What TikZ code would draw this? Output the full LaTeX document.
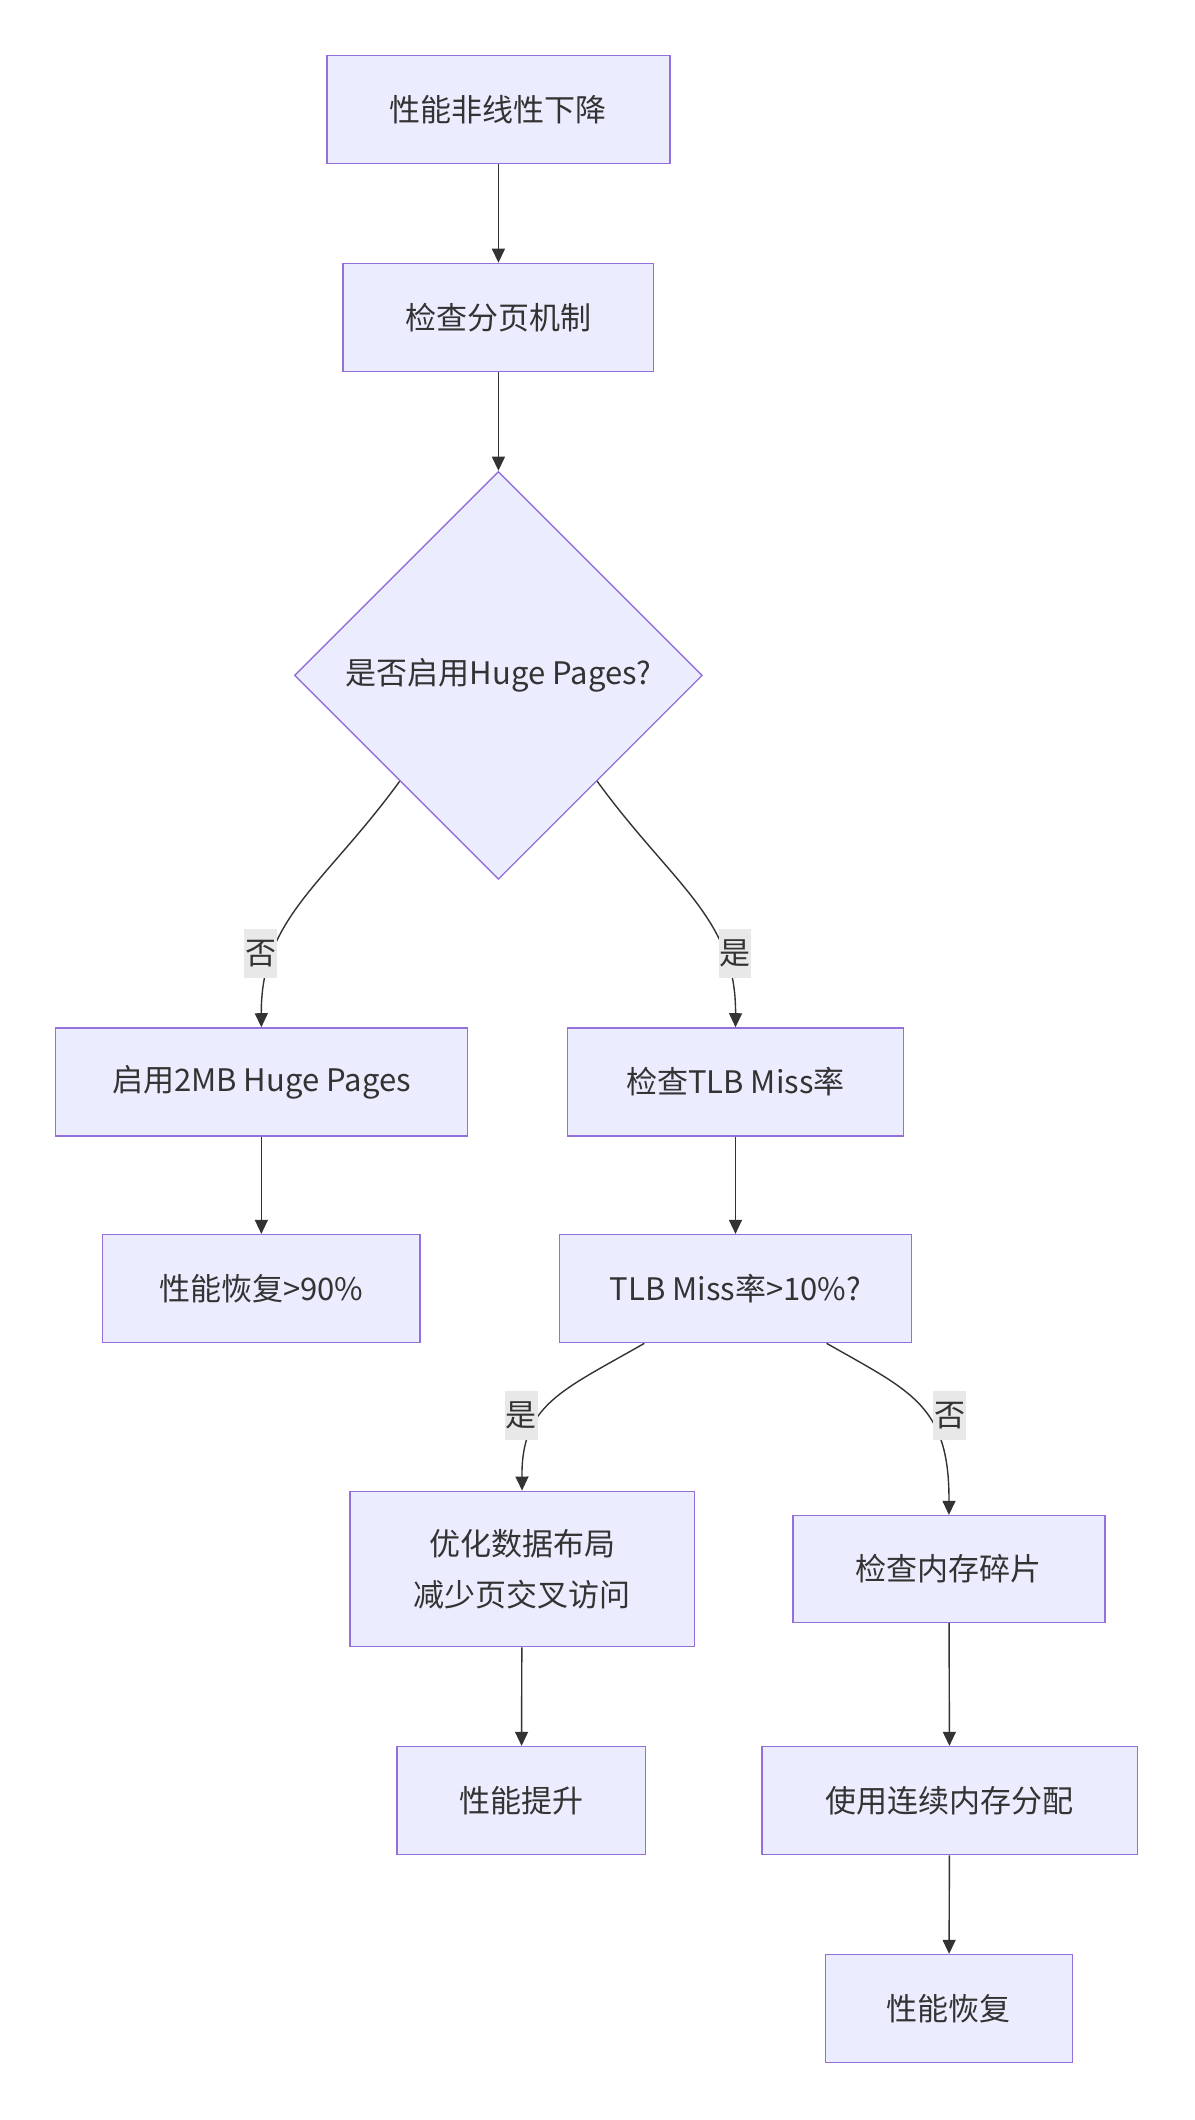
\documentclass[tikz,border=0pt]{standalone}
\usepackage{fontspec}
\setmainfont{Noto Sans CJK SC}
\usetikzlibrary{shapes.geometric,arrows.meta,calc}
\definecolor{boxfill}{HTML}{ECECFF}
\definecolor{boxline}{HTML}{9370DB}
\definecolor{ink}{HTML}{333333}
\definecolor{lblfill}{HTML}{E8E8E8}

%One pixel of the layout
\def\unitpx{0.675pt}

\begin{document}
\begin{tikzpicture}[x=\unitpx,y=-\unitpx,
     font=\fontsize{15.5pt}{25.5pt}\selectfont,
     box/.style={draw=boxline,fill=boxfill,line width=0.7pt,minimum height=80*\unitpx,inner sep=0pt,text=ink,align=center},
     decision/.style={diamond,draw=boxline,fill=boxfill,line width=0.7pt,minimum width=302*\unitpx,minimum height=302*\unitpx,inner sep=0pt,aspect=1,text=ink},
     lbl/.style={fill=lblfill,text=ink,inner sep=0pt,minimum width=24*\unitpx,minimum height=36*\unitpx},
     flow/.style={draw=ink,line width=0.7pt,-{Triangle[length=7pt,width=6.5pt]}}
     ]
\useasboundingbox (0,0) rectangle (884,1569.5);

%Main column
\node[box,minimum width=254*\unitpx] (slow) at (369,81) {性能非线性下降};
\node[box,minimum width=230*\unitpx] (paging) at (369,235) {检查分页机制};
\node[decision] (huge) at (369,500) {是否启用Huge Pages?};

%Left branch
\node[box,minimum width=305*\unitpx] (enable) at (193.5,801) {启用2MB Huge Pages};
\node[box,minimum width=235*\unitpx] (rec90) at (193.5,954) {性能恢复>90\%};

%Right branch
\node[box,minimum width=249*\unitpx] (tlb) at (544.5,801) {检查TLB Miss率};
\node[box,minimum width=261*\unitpx] (miss) at (544.5,954) {TLB Miss率>10\%?};
\node[box,minimum width=255*\unitpx,minimum height=115*\unitpx] (layout) at (386.5,1161.5) {优化数据布局\\减少页交叉访问};
\node[box,minimum width=184*\unitpx] (gain) at (386,1333) {性能提升};
\node[box,minimum width=231*\unitpx,minimum height=79*\unitpx] (frag) at (702.5,1161.5) {检查内存碎片};
\node[box,minimum width=278*\unitpx] (contig) at (703,1333) {使用连续内存分配};
\node[box,minimum width=183*\unitpx] (rec) at (702.5,1487) {性能恢复};

%Connectors
\draw[flow] (slow) -- (paging);
\draw[flow] (paging) -- (huge);
\draw[flow] (huge.-133) .. controls (240,655) and (193,680) .. (enable.north)
      node[lbl] at (193,706) {否};
\draw[flow] (huge.-47) .. controls (498,655) and (545,680) .. (tlb.north)
      node[lbl] at (544,706) {是};
\draw[flow] (enable) -- (rec90);
\draw[flow] (tlb) -- (miss);
\draw[flow] ($(miss.south)+(-67.5,0)$) .. controls (415,1030) and (386,1040) .. (layout.north)
      node[lbl] at (386,1048) {是};
\draw[flow] ($(miss.south)+(67.5,0)$) .. controls (674,1030) and (703,1040) .. (frag.north)
      node[lbl] at (703,1048) {否};
\draw[flow] (layout) -- (gain);
\draw[flow] (frag) -- (contig);
\draw[flow] (contig) -- (rec);
\end{tikzpicture}
\end{document}
